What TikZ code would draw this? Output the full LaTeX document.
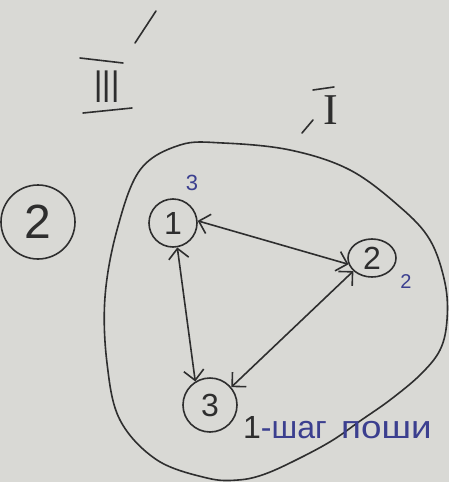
\documentclass[tikz,border=0pt]{standalone}
\usepackage{fontspec}
\setmainfont{Liberation Sans}
\newfontfamily\serifI{Liberation Serif}
\usetikzlibrary{arrows.meta,shapes.geometric}
\definecolor{paper}{HTML}{D9D9D5}
\definecolor{pen}{HTML}{2E2E2E}
\definecolor{ink}{HTML}{3B3F8F}
\tikzset{
  stroke/.style={draw=pen, line width=1.6pt, line cap=round, line join=round},
  vertex/.style={stroke, circle, inner sep=0pt, text=pen, font=\fontsize{32}{32}\selectfont},
  dbl/.style={stroke, {Straight Barb[length=10pt,width=20pt]}-{Straight Barb[length=10pt,width=20pt]}},
  bluelabel/.style={text=ink, inner sep=0pt},
}
\begin{document}
\begin{tikzpicture}[x=1pt,y=-1pt]
\fill[paper] (0,0) rectangle (449,482);
\useasboundingbox (0,0) rectangle (449,482);

% top marks
\coordinate (s1) at (135,43);
\coordinate (s2) at (156,11);
\draw[stroke] (s1) -- (s2);
\node[text=pen, inner sep=0pt, font=\fontsize{46}{46}\selectfont] (three) at (107,87) {\scalebox{0.65}[1]{III}};
\coordinate (o1) at (80,58); \coordinate (o2) at (123,63);
\coordinate (u1) at (83,113); \coordinate (u2) at (132,108);
\draw[stroke] (o1) -- (o2);
\draw[stroke] (u1) -- (u2);

\node[text=pen, inner sep=0pt, font=\serifI\fontsize{44}{44}\selectfont] (one) at (331,110) {I};
\coordinate (p1) at (313,90); \coordinate (p2) at (334,87);
\draw[stroke] (p1) -- (p2);
\coordinate (c1) at (302,133); \coordinate (c2) at (313,120);
\draw[stroke] (c1) -- (c2);

% circled 2
\node[stroke, circle, minimum size=74pt, inner sep=0pt, text=pen, font=\fontsize{48}{48}\selectfont] (big2) at (38,222) {2};

% outline blob
\draw[stroke] plot[smooth cycle, tension=0.6] coordinates {
  (180,145) (223,143) (290,150) (350,170) (400,207) (430,240) (445,283)
  (447,320) (440,350) (420,375) (390,400) (360,421) (333,440) (300,458)
  (265,474) (238,480) (207,478) (157,460) (120,420) (107,363) (105,297)
  (117,230) (140,170)};

% graph
\node[vertex, minimum size=48pt] (n1) at (173,223) {1};
\node[vertex, ellipse, minimum width=48pt, minimum height=38pt] (n2) at (372,258) {2};
\node[vertex, minimum size=54pt] (n3) at (210,405) {3};

\draw[dbl] (n1.5) -- (n2.195);
\draw[dbl] (n1.-80) -- (n3.122);
\draw[dbl] (n2.215) -- (n3.40);

\node[bluelabel, font=\fontsize{22}{22}\selectfont] (l1) at (192,183) {3};
\node[bluelabel, font=\fontsize{20}{20}\selectfont] (l2) at (406,282) {2};

\node[anchor=base west, inner sep=0pt, font=\fontsize{32}{32}\selectfont] (txt) at (243,438) {\textcolor{pen}{1}\textcolor{ink}{-шаг\hspace{0.45em}\scalebox{1.15}[1]{поши}}};
\end{tikzpicture}
\end{document}
